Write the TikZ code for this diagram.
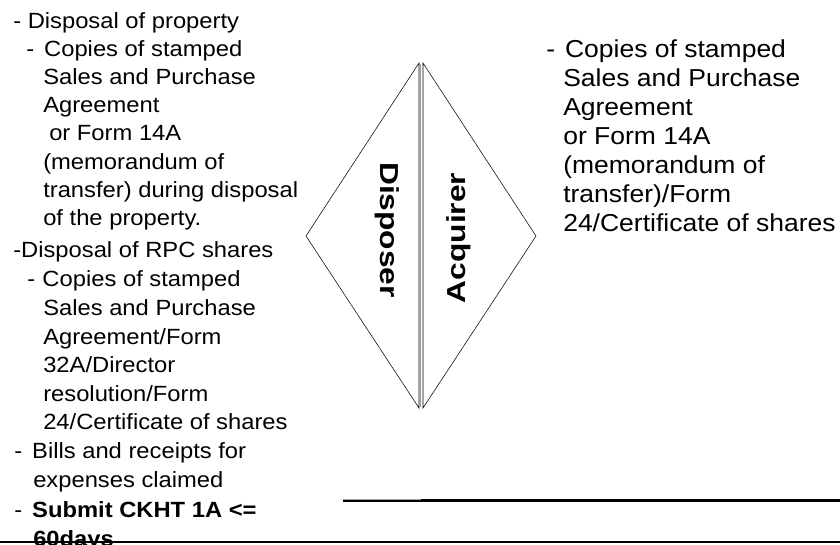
\documentclass[tikz,border=0pt]{standalone}
\usepackage{fontspec}
\setmainfont{Liberation Sans}[FakeStretch=1.08]
\newfontfamily\sidefont{Liberation Sans}[FakeStretch=1.22]
\usepackage{tikz}

\tikzset{
  lefttxt/.style={anchor=base west, inner sep=0.75pt, font=\fontsize{16.5}{19}\selectfont},
  righttxt/.style={anchor=base west, inner sep=0.75pt, font=\fontsize{18.4}{21}\selectfont},
  sidelabel/.style={anchor=base, inner sep=0.75pt, font=\sidefont\bfseries\fontsize{19.5}{22}\selectfont}
}

\begin{document}
\begin{tikzpicture}[x=0.75pt,y=0.75pt,yscale=-1,xscale=1]
\useasboundingbox (0,0) rectangle (840,544);

%Shape: Triangle [left]
\draw    (306,236) -- (419,63) -- (419,408) -- cycle ;
\draw [color={rgb, 255:red, 150; green, 150; blue, 150 }  ][line width=0.9]    (420.6,64) -- (420.6,407) ;
%Shape: Triangle [right]
\draw    (423,63) -- (536,236) -- (423,408) -- cycle ;

%Straight Lines
\draw [line width=2]    (343,500.5) -- (840,500.5) ;
\draw [color={rgb, 255:red, 160; green, 160; blue, 160 }  ][line width=0.7]    (343,499) -- (421,499) ;
%Straight Lines
\draw [line width=2.2]    (0,542) -- (840,542) ;

% Text Node
\draw (380,230) node (disposer) [sidelabel, rotate=-90] {Disposer};
% Text Node
\draw (465,238) node (acquirer) [sidelabel, rotate=90] {Acquirer};

% Text Node
\draw (12,28) node (lt1) [lefttxt] {- Disposal of property};
\draw (25,56) node (lt2) [lefttxt] {-\hspace{7.5pt}Copies of stamped};
\draw (42,84) node (lt3) [lefttxt] {Sales and Purchase};
\draw (42,112) node (lt4) [lefttxt] {Agreement};
\draw (48,140) node (lt5) [lefttxt] {or Form 14A};
\draw (42,169) node (lt6) [lefttxt] {(memorandum of};
\draw (42,197) node (lt7) [lefttxt] {transfer) during disposal};
\draw (42,225) node (lt8) [lefttxt] {of the property.};
% Text Node
\draw (12,257) node (lt9) [lefttxt] {-Disposal of RPC shares};
\draw (26,286) node (lt10) [lefttxt] {-\hspace{5.5pt}Copies of stamped};
\draw (42,315) node (lt11) [lefttxt] {Sales and Purchase};
\draw (42,344) node (lt12) [lefttxt] {Agreement/Form};
\draw (42,372) node (lt13) [lefttxt] {32A/Director};
\draw (42,401) node (lt14) [lefttxt] {resolution/Form};
\draw (42,429) node (lt15) [lefttxt] {24/Certificate of shares};
% Text Node
\draw (13,458) node (lt16) [lefttxt] {-\hspace{7.5pt}Bills and receipts for};
\draw (32,487) node (lt17) [lefttxt] {expenses claimed};
\draw (13,517) node (lt18) [lefttxt] {-\hspace{7.5pt}\textbf{Submit CKHT 1A <=}};
\draw (32,546) node (lt19) [lefttxt] {\textbf{60days}};

% Text Node
\draw (545,57) node (rt1) [righttxt] {-\hspace{7.5pt}Copies of stamped};
\draw (562,86) node (rt2) [righttxt] {Sales and Purchase};
\draw (562,115) node (rt3) [righttxt] {Agreement};
\draw (562,144) node (rt4) [righttxt] {or Form 14A};
\draw (562,173) node (rt5) [righttxt] {(memorandum of};
\draw (562,202) node (rt6) [righttxt] {transfer)/Form};
\draw (562,231) node (rt7) [righttxt] {24/Certificate of shares};

%Straight Lines [redrawn over text]
\draw [line width=2.2]    (0,542) -- (840,542) ;

\end{tikzpicture}
\end{document}
